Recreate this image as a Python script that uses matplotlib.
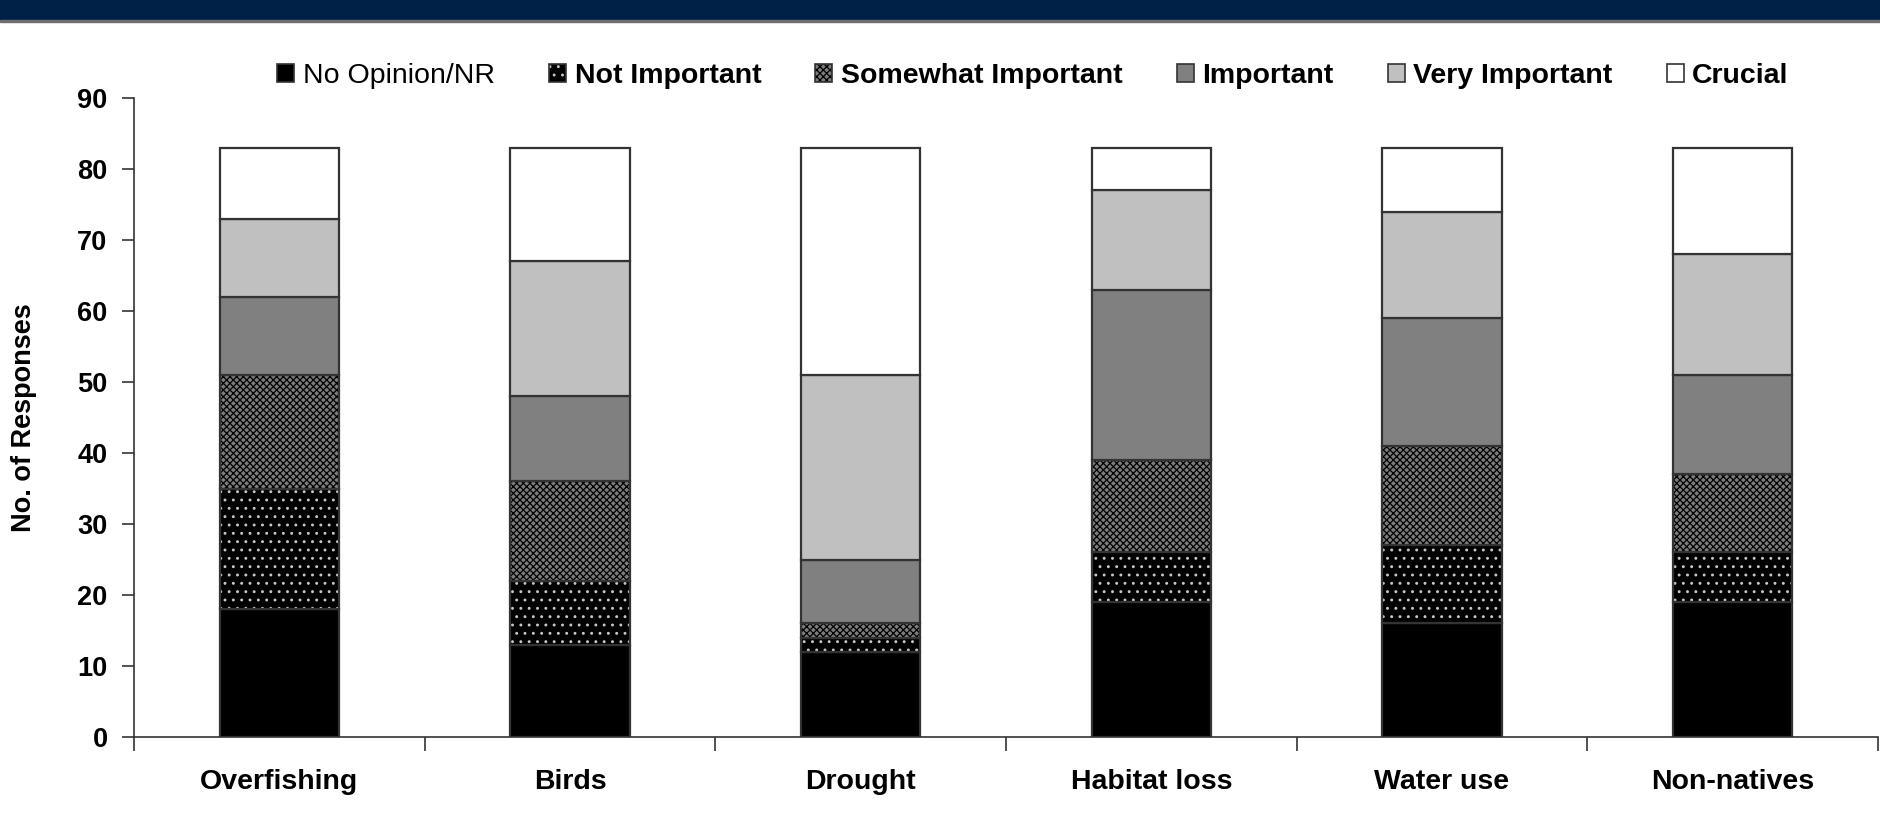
import matplotlib
matplotlib.use("Agg")
import numpy as np
import matplotlib.pyplot as plt
from matplotlib.patches import Patch, Rectangle
from matplotlib.legend_handler import HandlerTuple

categories = ["Overfishing", "Birds", "Drought", "Habitat loss", "Water use", "Non-natives"]
levels = ["No Opinion/NR", "Not Important", "Somewhat Important", "Important", "Very Important", "Crucial"]

no_opinion = [18, 13, 12, 19, 16, 19]
not_important = [17, 9, 2, 7, 11, 7]
somewhat_important = [16, 14, 2, 13, 14, 11]
important = [11, 12, 9, 24, 18, 14]
very_important = [11, 19, 26, 14, 15, 17]
crucial = [10, 16, 32, 6, 9, 15]

series = [no_opinion, not_important, somewhat_important, important, very_important, crucial]

# face colour, hatch colour, hatch
styles = [
    ("black", "none", None),
    ("black", "#c8c8c8", ".."),
    ("#7c7c7c", "black", "xxxxx"),
    ("#808080", "none", None),
    ("#c0c0c0", "none", None),
    ("white", "none", None),
]

plt.rcParams["font.family"] = ["Liberation Sans", "DejaVu Sans"]
plt.rcParams["hatch.linewidth"] = 0.9

fig = plt.figure(figsize=(18.81, 8.39), dpi=100)
fig.add_artist(Rectangle((0, 1 - 20 / 839), 1, 20 / 839, transform=fig.transFigure,
                         color="#002147", zorder=5))
fig.add_artist(Rectangle((0, 1 - 22 / 839), 1, 2 / 839, transform=fig.transFigure,
                         color="#6f6f6f", zorder=5))

ax = fig.add_axes([134 / 1881, 102 / 839, 1744 / 1881, 639 / 839])
x = np.arange(len(categories))
w = 0.41
edge = "#333333"

bottom = np.zeros(len(categories))
handles = []
for vals, (fc, hc, hatch), lab in zip(series, styles, levels):
    ax.bar(x, vals, w, bottom=bottom, color=fc, edgecolor=hc, hatch=hatch, linewidth=0)
    ax.bar(x, vals, w, bottom=bottom, fill=False, edgecolor=edge, linewidth=1.6)
    bottom += np.array(vals)
    handles.append((Patch(facecolor=fc, edgecolor=hc, hatch=hatch, linewidth=0),
                    Patch(fill=False, edgecolor=edge, linewidth=1.2)))

ax.set_xlim(-0.5, 5.5)
ax.set_ylim(0, 90)
ax.set_yticks(np.arange(0, 91, 10))
ax.tick_params(axis="y", length=9, width=1.2, color=edge, pad=10, labelsize=19.5)
for t in ax.get_yticklabels():
    t.set_fontweight("bold")

ax.set_xticks(np.arange(-0.5, 6, 1))
ax.set_xticklabels([])
ax.tick_params(axis="x", which="major", length=10, width=1.2, color=edge)
ax.set_xticks(x, minor=True)
ax.set_xticklabels(categories, minor=True, fontsize=20.5, fontweight="bold")
ax.tick_params(axis="x", which="minor", length=0, pad=23)

for s in ["top", "right"]:
    ax.spines[s].set_visible(False)
for s in ["left", "bottom"]:
    ax.spines[s].set_color(edge)
    ax.spines[s].set_linewidth(1.2)

fig.text(24 / 1881, 0.5 + 2 / 839, "No. of Responses", rotation=90,
         ha="center", va="center", fontsize=19.5, fontweight="bold")

leg = fig.legend(handles, levels, handler_map={tuple: HandlerTuple(ndivide=1, pad=0)},
                 loc="center", bbox_to_anchor=(1033 / 1881, 1 - 76 / 839), ncol=6,
                 frameon=False, fontsize=20.5, handlelength=0.6, handleheight=0.6,
                 handletextpad=0.3, columnspacing=1.9)
for i, t in enumerate(leg.get_texts()):
    if i > 0:
        t.set_fontweight("bold")

fig.savefig("out.png", dpi=100)
